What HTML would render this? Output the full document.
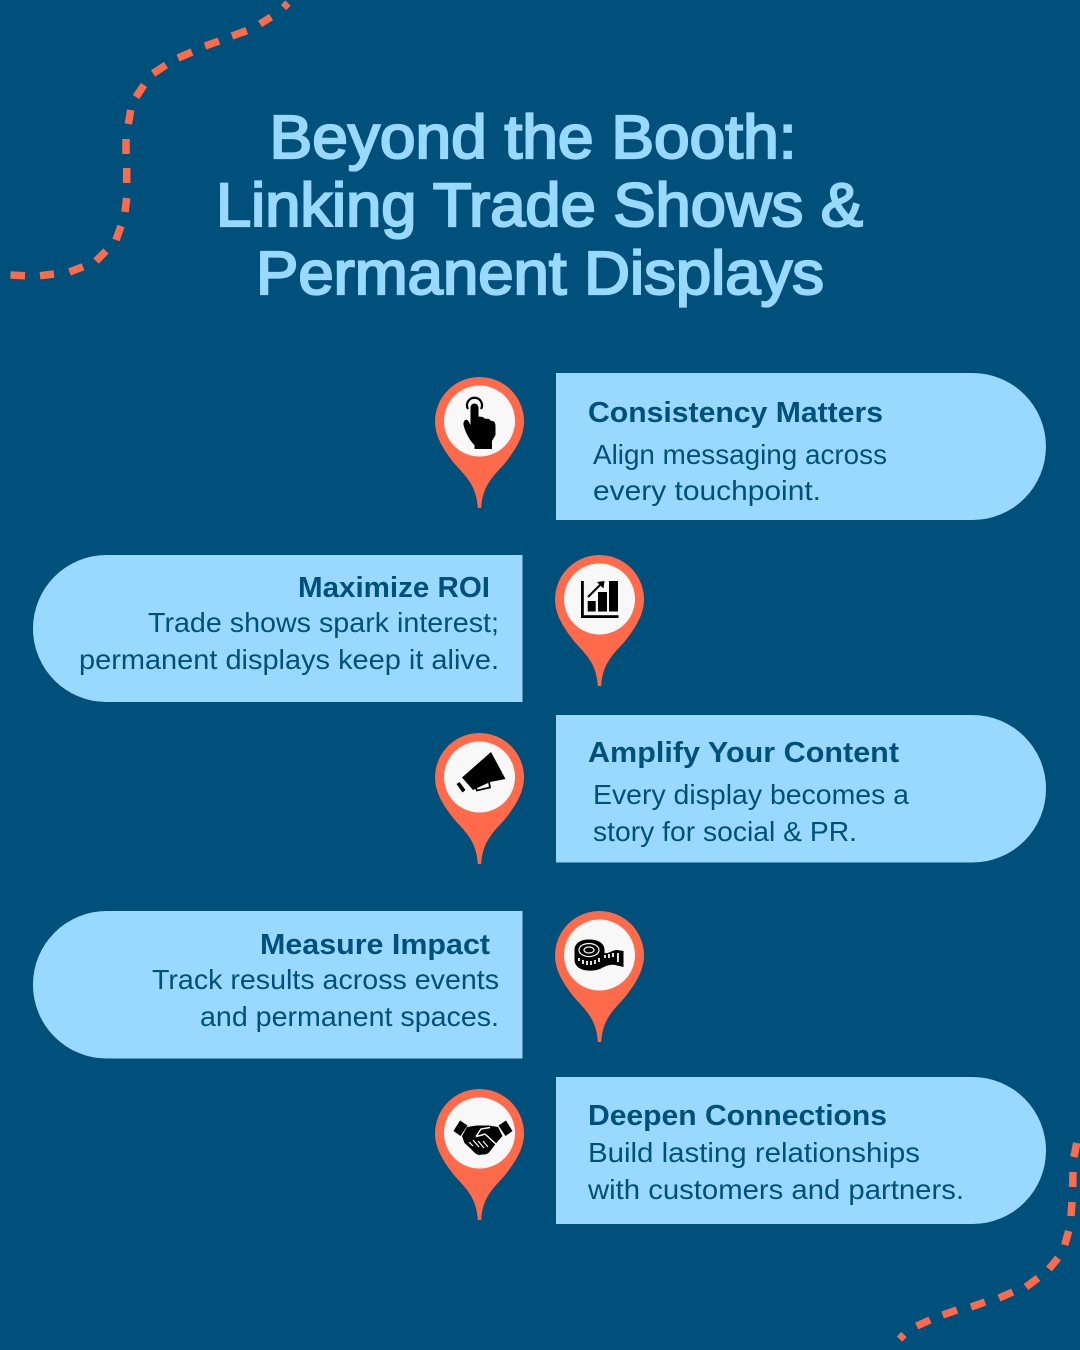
<!DOCTYPE html>
<html>
<head>
<meta charset="utf-8">
<style>
html,body{margin:0;padding:0;background:#00507c;}
svg{display:block;}
.t{font-family:"Liberation Sans",sans-serif;font-size:61px;font-weight:400;fill:#99d9ff;stroke:#99d9ff;stroke-width:2.2px;}
.h{font-family:"Liberation Sans",sans-serif;font-size:29px;font-weight:700;fill:#00507c;}
.b{font-family:"Liberation Sans",sans-serif;font-size:28px;fill:#00507c;}
</style>
</head>
<body>
<svg width="1080" height="1350" viewBox="0 0 1080 1350" xmlns="http://www.w3.org/2000/svg">
<defs>
<path id="pin" d="M-44.5 0A44.5 44.5 0 0 1 44.5 0C44.5 15 36 28 26 41C16 53 3 62 1.7 86.5L-1.7 86.5C-3 62 -16 53 -26 41C-36 28 -44.5 15 -44.5 0Z" fill="#ff6b4a"/>
</defs>
<rect width="1080" height="1350" fill="#00507c"/>

<g stroke="#ff6b4a" stroke-width="7.5" fill="none">
<path d="M288 3L283.500 7.500M271 17L260 24M246.700 30.700L232 36M219 41L205 46M192 52L178 58M166 65L153 73.500M144 85L136 97M130.700 110L128.300 124M126 139L126 154M126.700 168L126.700 183M126.700 198L125 212M121 226L116 240M106 251L96 261M83 266.700L69.500 272M54 274L40 275.700M25 275.700L10.500 275"/>
<path d="M1076.700 1143L1074 1157M1073 1172L1072.700 1187M1072 1202L1071 1216M1068.700 1231L1064.700 1245M1058 1258L1049 1269M1038 1278L1026 1287M1012.700 1292L999 1298M985 1302L971 1307M957 1310L942.700 1315M930 1320L916.700 1326M904 1334.500L899.500 1339"/>
</g>

<text class="t" x="269.500" y="158" textLength="527" lengthAdjust="spacingAndGlyphs">Beyond the Booth:</text>
<text class="t" x="216" y="226" textLength="647" lengthAdjust="spacingAndGlyphs">Linking Trade Shows &amp;</text>
<text class="t" x="256" y="294" textLength="568" lengthAdjust="spacingAndGlyphs">Permanent Displays</text>

<g fill="#99d9ff">
<path d="M556 373H972.500A73.500 73.500 0 0 1 972.500 520H556Z"/>
<path d="M522.500 555H106.500A73.500 73.500 0 0 0 106.500 702H522.500Z"/>
<path d="M556 715H972.300A73.750 73.750 0 0 1 972.300 862.500H556Z"/>
<path d="M522.500 911H106.700A73.750 73.750 0 0 0 106.700 1058.500H522.500Z"/>
<path d="M556 1077H972.500A73.500 73.500 0 0 1 972.500 1224H556Z"/>
</g>

<text class="h" x="588" y="422" textLength="295" lengthAdjust="spacingAndGlyphs">Consistency Matters</text>
<text class="b" x="593" y="464" textLength="294" lengthAdjust="spacingAndGlyphs">Align messaging across</text>
<text class="b" x="593" y="500" textLength="228" lengthAdjust="spacingAndGlyphs">every touchpoint.</text>

<text class="h" x="298" y="597" textLength="192" lengthAdjust="spacingAndGlyphs">Maximize ROI</text>
<text class="b" x="148" y="632" textLength="351" lengthAdjust="spacingAndGlyphs">Trade shows spark interest;</text>
<text class="b" x="79" y="669" textLength="420" lengthAdjust="spacingAndGlyphs">permanent displays keep it alive.</text>

<text class="h" x="588" y="762" textLength="311" lengthAdjust="spacingAndGlyphs">Amplify Your Content</text>
<text class="b" x="593" y="804" textLength="316" lengthAdjust="spacingAndGlyphs">Every display becomes a</text>
<text class="b" x="593" y="841" textLength="264" lengthAdjust="spacingAndGlyphs">story for social &amp; PR.</text>

<text class="h" x="260" y="954" textLength="230" lengthAdjust="spacingAndGlyphs">Measure Impact</text>
<text class="b" x="152" y="989" textLength="347" lengthAdjust="spacingAndGlyphs">Track results across events</text>
<text class="b" x="200" y="1026" textLength="299" lengthAdjust="spacingAndGlyphs">and permanent spaces.</text>

<text class="h" x="588" y="1125" textLength="299" lengthAdjust="spacingAndGlyphs">Deepen Connections</text>
<text class="b" x="588" y="1162" textLength="332" lengthAdjust="spacingAndGlyphs">Build lasting relationships</text>
<text class="b" x="588" y="1199" textLength="376" lengthAdjust="spacingAndGlyphs">with customers and partners.</text>

<!-- pins -->
<use href="#pin" transform="translate(479.500,421.500)"/>
<use href="#pin" transform="translate(599.500,599.500)"/>
<use href="#pin" transform="translate(479.500,777.500)"/>
<use href="#pin" transform="translate(599.500,955.500)"/>
<use href="#pin" transform="translate(479.500,1133.500)"/>
<g fill="#f8f8f8">
<circle cx="479.500" cy="421" r="35.500"/>
<circle cx="599.500" cy="599" r="35.500"/>
<circle cx="479.500" cy="777" r="35.500"/>
<circle cx="599.500" cy="955" r="35.500"/>
<circle cx="479.500" cy="1133" r="35.500"/>
</g>

<!-- hand -->
<path d="M468 409A7.500 7.500 0 1 1 481 409" fill="none" stroke="#000" stroke-width="2.200"/>
<path d="M470.500 408C470.500 402 478.500 402 478.500 408V416.500L483 417L484.500 418.500L489 419L490.500 420.500L494 421.500C495.500 423 495.500 425 495.500 427V435L492 441V449H474.500V445C470 441 465.500 433 463.500 425C463 420.500 466 418.500 468 420.500L470.500 425Z" fill="#000"/>

<!-- chart -->
<g fill="#000">
<rect x="581" y="581" width="2.800" height="37"/>
<rect x="581" y="615.200" width="37.500" height="2.800"/>
<rect x="587.700" y="601" width="8" height="10.500"/>
<rect x="598" y="592" width="9" height="19.500"/>
<rect x="609" y="581" width="9" height="30.500"/>
<path d="M588 597L601 584" stroke="#000" stroke-width="2" fill="none"/>
<path d="M604.500 581L603.500 588.500L597 582Z"/>
</g>

<!-- megaphone -->
<g>
<path d="M491 752L505.500 779L490 782L473 790L462 777.500Z" fill="#000"/>
<path d="M456.500 784L459.500 782L465.500 790L462.500 792.500Z" fill="#000"/>
<path d="M475 786L477 790.500L490 787.500L489 782" fill="none" stroke="#000" stroke-width="1.800"/>
</g>

<!-- tape -->
<g>
<path d="M574.500 950C574.500 943 581 939.500 589 939.500C598 939.500 604.500 943 604.500 950V953C608 954.500 612 950 617 950L623.500 951V967L617 965.500C610 963.500 606 966 601 968.500C596 971 586 971.500 581 969C577 967 574.500 964 574.500 960Z" fill="#000"/>
<ellipse cx="589" cy="950" rx="10" ry="6.500" fill="none" stroke="#f8f8f8" stroke-width="1.200"/>
<ellipse cx="589" cy="950" rx="5" ry="3" fill="none" stroke="#f8f8f8" stroke-width="1.200"/>
<path d="M579 958V961M583 960V964M587 961V965M591 961V965M595 960V964M599 958V962M605 955V958M609 954V958M613 953V957M618 953V962" stroke="#f8f8f8" stroke-width="1.800" fill="none"/>
</g>

<!-- handshake -->
<g>
<path d="M460 1120.500L467.500 1125.500L460.500 1136L453.500 1131Z" fill="#000"/>
<path d="M506 1120.500L498.500 1125.500L505.500 1136L512.500 1131Z" fill="#000"/>
<path d="M467 1127L477 1125.500L489 1125.500L498 1127L502.500 1136L498 1141L489 1152.500C486 1155.500 482 1154 480 1155C476 1155 474 1152 471 1149L464.500 1143L462 1136Z" fill="#000"/>
<path d="M476 1136.500L481 1129L490 1127.500M485 1134L497 1145M476 1136.500L482 1135L485 1134" fill="none" stroke="#f8f8f8" stroke-width="1.500"/>
<path d="M469 1142L473 1146M473 1140L479 1147M478 1141L484 1148M483 1141L488 1147" stroke="#f8f8f8" stroke-width="1.200" fill="none"/>
</g>
</svg>
</body>
</html>
